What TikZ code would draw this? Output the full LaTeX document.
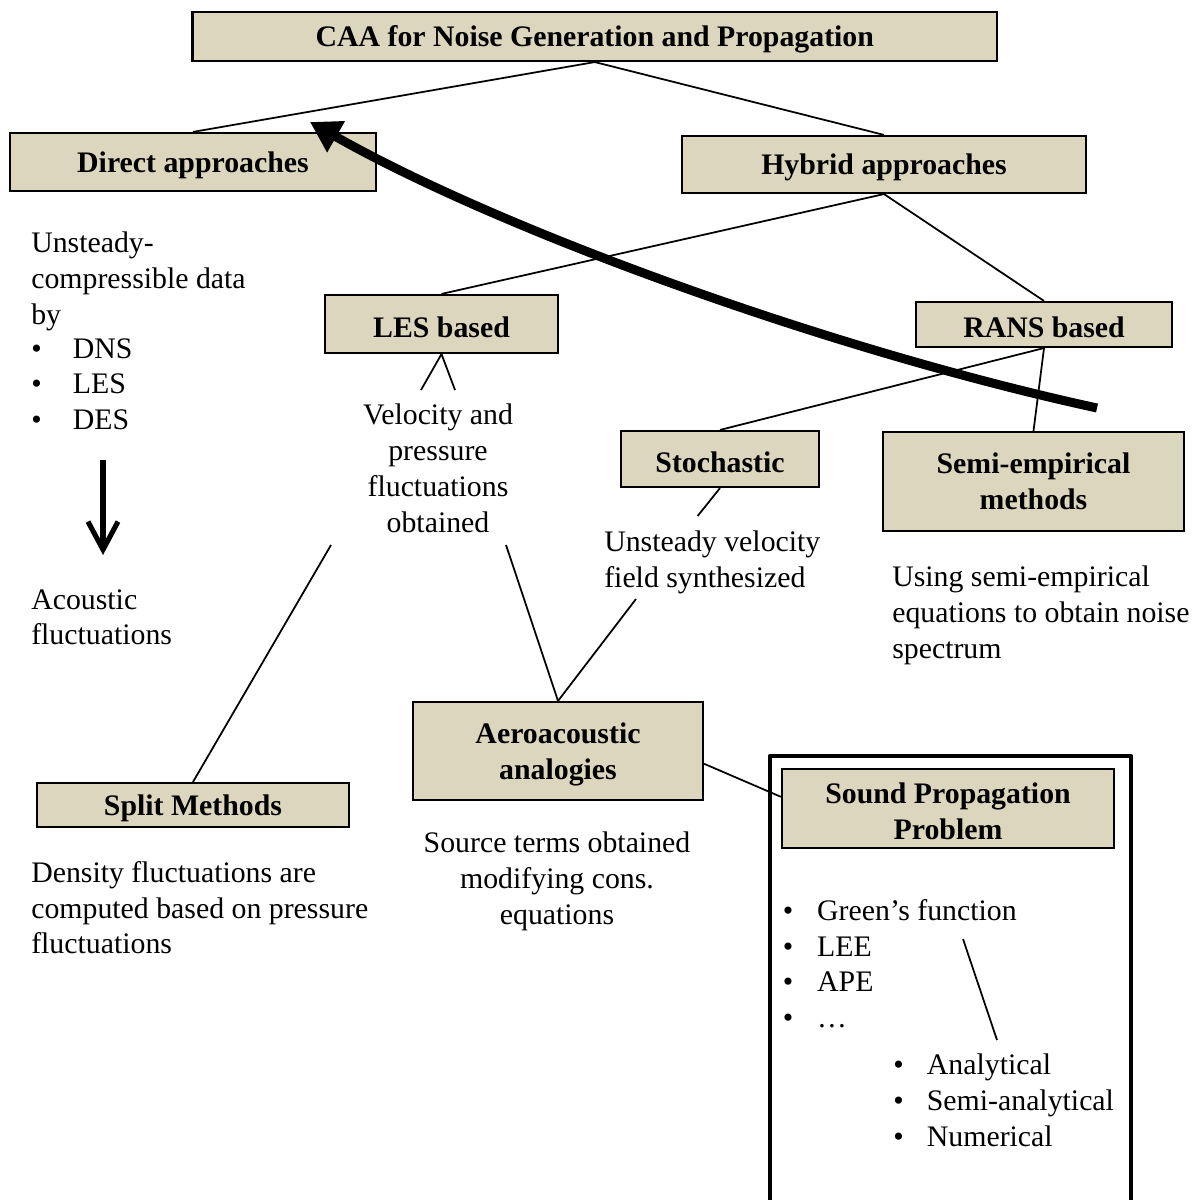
\documentclass[tikz,border=0pt]{standalone}
\usepackage{fontspec}
\setmainfont{Liberation Serif}
\usetikzlibrary{arrows.meta}
\definecolor{boxtan}{RGB}{221,214,190}
\newcommand{\bul}[2]{\makebox[#1][l]{\textbullet}#2}
\newcommand{\upstrut}{\rule{0pt}{19pt}}

\begin{document}
\begin{tikzpicture}[
                x=0.025cm, y=-0.025cm,
                font=\fontsize{21.2}{25.5}\selectfont,
                box/.style={draw, line width=1.5pt, fill=boxtan, align=center, inner sep=0pt,
                            font=\fontsize{21.2}{25.5}\selectfont\bfseries},
                txt/.style={inner sep=0pt, align=left, anchor=north west},
                ctxt/.style={inner sep=0pt, align=center, anchor=north},
                link/.style={draw, line width=1.25pt}
                ]
                \useasboundingbox (0,0) rectangle (1198,1200);
                % boxes
                \node[box, minimum width=20.11cm, minimum height=1.225cm] (caa) at (594.75,36.5) {\upstrut CAA for Noise Generation and Propagation};
                \node[box, minimum width=9.15cm, minimum height=1.45cm] (direct) at (193,162) {\upstrut Direct approaches};
                \node[box, minimum width=10.1cm, minimum height=1.425cm] (hybrid) at (884,164.5) {\upstrut Hybrid approaches};
                \node[box, minimum width=5.825cm, minimum height=1.45cm] (les) at (441.5,324) {\upstrut LES based};
                \node[box, minimum width=6.4cm, minimum height=1.125cm] (rans) at (1044,324.5) {\upstrut RANS based};
                \node[box, minimum width=4.95cm, minimum height=1.4cm] (stoch) at (720,459) {\upstrut Stochastic};
                \node[box, minimum width=7.525cm, minimum height=2.475cm] (semi) at (1033.5,481.5) {Semi-empirical\\methods};
                \node[box, minimum width=7.25cm, minimum height=2.45cm] (aero) at (558,751) {\upstrut Aeroacoustic\\analogies};
                \node[box, minimum width=7.8cm, minimum height=1.1cm] (split) at (193,805) {\upstrut Split Methods};
                \node[box, minimum width=8.3cm, minimum height=1.975cm] (sound) at (948,808.5) {\upstrut Sound Propagation\\Problem};

                % texts
                \node[txt] (unst) at (31,232) {Unsteady-\\compressible data\\by};
                \node[txt] (dlist) at (31,338) {\bul{1.04cm}{DNS}\\\bul{1.04cm}{LES}\\\bul{1.04cm}{DES}};
                \node[txt] (acou) at (31,589) {Acoustic\\fluctuations};
                \node[ctxt] (vel) at (438,404) {Velocity and\\pressure\\fluctuations\\obtained};
                \node[txt] (unsv) at (604,531) {Unsteady velocity\\field synthesized};
                \node[txt] (usem) at (892,566) {Using semi-empirical\\equations to obtain noise\\spectrum};
                \node[ctxt] (src) at (557,832) {Source terms obtained\\modifying cons.\\equations};
                \node[txt] (dens) at (31,861) {Density fluctuations are\\computed based on pressure\\fluctuations};
                \node[txt] (slist) at (782.5,899) {\bul{0.86cm}{Green’s function}\\\bul{0.86cm}{LEE}\\\bul{0.86cm}{APE}\\\bul{0.86cm}{…}};
                \node[txt] (sub) at (893,1054) {\bul{0.84cm}{Analytical}\\\bul{0.84cm}{Semi-analytical}\\\bul{0.84cm}{Numerical}};

                % free ends
                \coordinate (velL) at (421,390);
                \coordinate (velR) at (455,390);
                \coordinate (velA) at (331,545);
                \coordinate (velB) at (506,545);
                \coordinate (unsA) at (697.6,516);
                \coordinate (unsB) at (636,599);
                \coordinate (grA) at (963,939);
                \coordinate (grB) at (997,1040);
                \coordinate (dnA) at (103,460);
                \coordinate (dnB) at (103,555);
                \coordinate (bigS) at (1097,408);
                \coordinate (bigE) at (310,122);

                % connectors
                \draw[link] (caa.south) -- (direct.north);
                \draw[link] (caa.south) -- (hybrid.north);
                \draw[link] (hybrid.south) -- (les.north);
                \draw[link] (hybrid.south) -- (rans.north);
                \draw[link] (rans.south) -- (stoch.north);
                \draw[link] (rans.south) -- (semi.north);
                \draw[link] (velL) -- (les.south) -- (velR);
                \draw[link] (velA) -- (split.north);
                \draw[link] (velB) -- (aero.north);
                \draw[link] (stoch.south) -- (unsA);
                \draw[link] (unsB) -- (aero.north);
                \draw[link] (aero.-5.5) -- (sound.176.7);
                \draw[link] (grA) -- (grB);

                % frame round the propagation part
                \draw[line width=3.3pt, line join=round] (770,1215) -- (770,756) -- (1131,756) -- (1131,1215);

                % arrows
                \draw[line width=3.6pt, -{Straight Barb[length=0.7cm,width=0.75cm]}] (dnA) -- (dnB);
                \draw[line width=6.4pt, -{Triangle[length=0.75cm,width=0.85cm]}] (bigS) .. controls (830,350) and (500,230) .. (bigE);
\end{tikzpicture}
\end{document}
